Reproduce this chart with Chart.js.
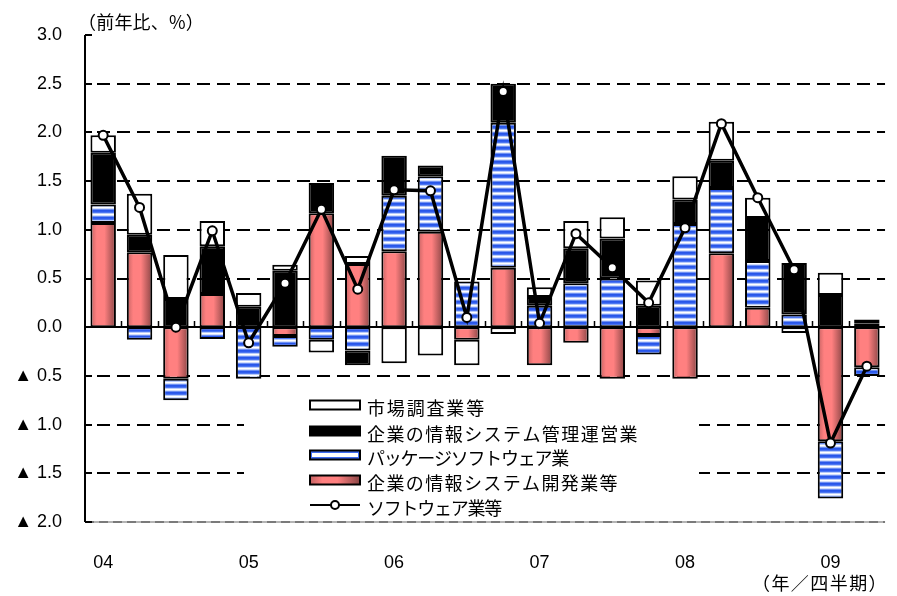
<!DOCTYPE html>
<html>
<head>
<meta charset="utf-8">
<script src="https://cdn.jsdelivr.net/npm/chart.js@4.4.1/dist/chart.umd.min.js"></script>
<style>
  html, body { margin: 0; padding: 0; background: #ffffff; }
  #wrap { width: 897px; height: 596px; }
</style>
</head>
<body>
<div id="wrap"><canvas id="c" width="897" height="596"></canvas></div>
<script>
// Quarters 2004 Q1 – 2009 Q2
const categories = [
  '04Q1','04Q2','04Q3','04Q4',
  '05Q1','05Q2','05Q3','05Q4',
  '06Q1','06Q2','06Q3','06Q4',
  '07Q1','07Q2','07Q3','07Q4',
  '08Q1','08Q2','08Q3','08Q4',
  '09Q1','09Q2'
];
const yearLabels = ['04', '05', '06', '07', '08', '09'];

// Contributions to year-on-year growth (percentage points)
const devSystems = [1.07, 0.77, -0.53, 0.34, 0, -0.09, 1.17, 0.65, 0.78, 0.98, -0.13, 0.61, -0.39, -0.16, -0.53, -0.08, -0.53, 0.76, 0.20, 0, -1.17, -0.41];
const packageSoftware = [0.19, -0.13, -0.22, -0.12, -0.53, -0.11, -0.13, -0.24, 0.57, 0.57, 0.47, 1.49, 0.22, 0.45, 0.50, -0.20, 1.06, 0.67, 0.48, 0.13, -0.59, -0.09];
const opsManagement = [0.53, 0.18, 0.29, 0.49, 0.21, 0.58, 0.31, -0.15, 0.41, 0.11, 0, 0.40, 0.09, 0.36, 0.41, 0.22, 0.25, 0.28, 0.44, 0.53, 0.33, 0.04];
const marketResearch = [0.18, 0.42, 0.45, 0.26, 0.14, 0.06, -0.13, 0.08, -0.37, -0.29, -0.26, -0.07, 0.10, 0.28, 0.22, 0.26, 0.24, 0.40, 0.21, -0.06, 0.23, 0.04];
// Software industry total (%)
const softwareTotal = [1.97, 1.23, 0.00, 0.99, -0.16, 0.45, 1.21, 0.39, 1.41, 1.40, 0.10, 2.42, 0.04, 0.96, 0.61, 0.25, 1.02, 2.09, 1.33, 0.59, -1.19, -0.40];

const seriesNames = [
  '市場調査業等',
  '企業の情報システム管理運営業',
  'パッケージソフトウェア業',
  '企業の情報システム開発業等',
  'ソフトウェア業等'
];

const CJK = '"Noto Sans CJK JP", "Noto Sans", sans-serif';
const LATIN = '"Liberation Sans", Arial, "DejaVu Sans", sans-serif';
const CAT_PCT = 0.7;

// Horizontal blue/white stripe fill
function makeStripePattern() {
  const c = document.createElement('canvas');
  c.width = 4; c.height = 7;
  const g = c.getContext('2d');
  const rows = ['#2856e8', '#2f5ced', '#4d77f1', '#b9cbfa', '#ffffff', '#d3defc', '#6d8ff3'];
  rows.forEach((col, i) => { g.fillStyle = col; g.fillRect(0, i, 4, 1); });
  return g.createPattern(c, 'repeat');
}
const stripe = makeStripePattern();

function redGradient(ctx2d, x0, x1) {
  const gr = ctx2d.createLinearGradient(x0, 0, x1, 0);
  gr.addColorStop(0, '#c46262');
  gr.addColorStop(0.25, '#ff8080');
  gr.addColorStop(0.55, '#ff8080');
  gr.addColorStop(1, '#8a4545');
  return gr;
}

function redFill(context) {
  const chart = context.chart;
  const xs = chart.scales.x;
  if (!chart.chartArea || !xs || context.dataIndex === undefined) return '#ff8080';
  const cx = xs.getPixelForValue(context.dataIndex);
  const hw = (xs.width / categories.length) * CAT_PCT / 2;
  return redGradient(chart.ctx, cx - hw, cx + hw);
}

const barCommon = {
  type: 'bar',
  borderColor: '#000000',
  borderWidth: 2,
  borderSkipped: false,
  categoryPercentage: CAT_PCT,
  barPercentage: 1.0,
  stack: 'parts',
  order: 1
};

function spacedText(ctx, text, x, y, width) {
  ctx.letterSpacing = '0px';
  const natural = ctx.measureText(text).width;
  const n = [...text].length;
  ctx.letterSpacing = ((width - natural) / n).toFixed(2) + 'px';
  ctx.fillText(text, x, y);
  ctx.letterSpacing = '0px';
}

// Gridlines, axes and tick marks
const framePlugin = {
  id: 'frame',
  beforeDatasetsDraw(chart) {
    const { ctx, chartArea: a, scales: { x, y } } = chart;
    ctx.save();
    ctx.lineWidth = 2;
    ctx.strokeStyle = '#000';
    ctx.setLineDash([13, 7]);
    [2.5, 2.0, 1.5, 1.0, 0.5, -0.5, -1.0, -1.5].forEach(v => {
      const py = Math.round(y.getPixelForValue(v));
      ctx.beginPath();
      ctx.moveTo(a.left + 12, py);
      ctx.lineTo(a.right, py);
      ctx.stroke();
    });
    // bottom line
    const pb = Math.round(y.getPixelForValue(-2.0));
    ctx.setLineDash([]);
    ctx.strokeStyle = '#b4b4b4';
    ctx.beginPath(); ctx.moveTo(a.left, pb); ctx.lineTo(a.right, pb); ctx.stroke();
    ctx.strokeStyle = '#7a7a7a';
    ctx.setLineDash([9, 5]);
    ctx.beginPath(); ctx.moveTo(a.left, pb); ctx.lineTo(a.right, pb); ctx.stroke();
    ctx.setLineDash([]);
    // zero line
    ctx.strokeStyle = '#000';
    const p0 = Math.round(y.getPixelForValue(0));
    ctx.beginPath(); ctx.moveTo(a.left, p0); ctx.lineTo(a.right, p0); ctx.stroke();
    // quarter boundary ticks on the zero line
    ctx.lineWidth = 1.5;
    for (let i = 1; i < categories.length; i++) {
      const px = Math.round((x.getPixelForValue(i - 1) + x.getPixelForValue(i)) / 2) + 0.5;
      ctx.beginPath(); ctx.moveTo(px, p0); ctx.lineTo(px, p0 - 6); ctx.stroke();
    }
    // value axis and its ticks
    ctx.lineWidth = 2;
    ctx.beginPath(); ctx.moveTo(a.left, a.top); ctx.lineTo(a.left, pb); ctx.stroke();
    for (let v = -2.0; v <= 3.0001; v += 0.5) {
      const py = Math.round(y.getPixelForValue(v));
      ctx.beginPath(); ctx.moveTo(a.left, py); ctx.lineTo(a.left + 7, py); ctx.stroke();
    }
    ctx.restore();
  },
  afterDraw(chart) {
    const { ctx } = chart;
    ctx.save();
    ctx.fillStyle = '#000';
    ctx.textBaseline = 'middle';
    ctx.font = '18px ' + CJK;
    ctx.textAlign = 'left';
    spacedText(ctx, '（前年比、%）', 78, 22, 126);
    spacedText(ctx, '（年／四半期）', 752, 583, 136);
    ctx.restore();
  }
};

// Legend panel inside the plot
const legendPlugin = {
  id: 'panelLegend',
  afterDraw(chart) {
    const { ctx } = chart;
    ctx.save();
    ctx.fillStyle = '#ffffff';
    ctx.fillRect(244, 386, 455, 128);
    const sx = 310, sw = 50, sh = 9;
    const rowsY = [405, 431, 455, 480, 505];
    const targetW = [119, 272, 201, 252, 134];
    // symbols
    ctx.lineWidth = 2;
    ctx.strokeStyle = '#000';
    ctx.fillStyle = '#fff';
    ctx.fillRect(sx, rowsY[0] - sh / 2, sw, sh);
    ctx.strokeRect(sx, rowsY[0] - sh / 2, sw, sh);
    ctx.fillStyle = '#000';
    ctx.fillRect(sx, rowsY[1] - sh / 2, sw, sh);
    ctx.strokeRect(sx, rowsY[1] - sh / 2, sw, sh);
    ctx.fillStyle = '#3f6cf0';
    ctx.fillRect(sx, rowsY[2] - sh / 2, sw, sh);
    ctx.fillStyle = '#ffffff';
    ctx.fillRect(sx + 2, rowsY[2] - 2, sw - 4, 4);
    ctx.strokeRect(sx, rowsY[2] - sh / 2, sw, sh);
    ctx.fillStyle = redGradient(ctx, sx, sx + sw);
    ctx.fillRect(sx, rowsY[3] - sh / 2, sw, sh);
    ctx.strokeRect(sx, rowsY[3] - sh / 2, sw, sh);
    ctx.beginPath(); ctx.moveTo(sx, rowsY[4]); ctx.lineTo(sx + sw, rowsY[4]); ctx.stroke();
    ctx.beginPath(); ctx.arc(sx + sw / 2, rowsY[4], 4, 0, Math.PI * 2);
    ctx.fillStyle = '#fff'; ctx.fill(); ctx.stroke();
    // labels
    ctx.fillStyle = '#000';
    ctx.font = '18px ' + CJK;
    ctx.textAlign = 'left';
    ctx.textBaseline = 'middle';
    seriesNames.forEach((name, i) => {
      spacedText(ctx, name, 367, rowsY[i] + 3, targetW[i]);
    });
    ctx.restore();
  }
};

new Chart(document.getElementById('c'), {
  data: {
    labels: categories,
    datasets: [
      Object.assign({}, barCommon, { label: seriesNames[3], data: devSystems, backgroundColor: redFill }),
      Object.assign({}, barCommon, { label: seriesNames[2], data: packageSoftware, backgroundColor: stripe }),
      Object.assign({}, barCommon, { label: seriesNames[1], data: opsManagement, backgroundColor: '#000000' }),
      Object.assign({}, barCommon, { label: seriesNames[0], data: marketResearch, backgroundColor: '#ffffff' }),
      {
        type: 'line',
        label: seriesNames[4],
        data: softwareTotal,
        stack: 'total',
        order: 0,
        borderColor: '#000000',
        borderWidth: 3.5,
        tension: 0,
        pointRadius: 4.5,
        pointBackgroundColor: '#ffffff',
        pointBorderColor: '#000000',
        pointBorderWidth: 2
      }
    ]
  },
  options: {
    responsive: false,
    animation: false,
    layout: { padding: { top: 35, right: 1, bottom: 0, left: 0 } },
    plugins: { legend: { display: false }, tooltip: { enabled: false } },
    scales: {
      x: {
        stacked: true,
        grid: { display: false, drawTicks: false },
        border: { display: false },
        afterFit: s => { s.height = 74; },
        ticks: {
          autoSkip: false,
          maxRotation: 0,
          padding: 30,
          color: '#000',
          font: { family: LATIN, size: 18 },
          callback: (v, i) => (i % 4 === 0 ? yearLabels[i / 4] : '')
        }
      },
      y: {
        stacked: true,
        min: -2.0,
        max: 3.0,
        grid: { display: false, drawTicks: false },
        border: { display: false },
        afterFit: s => { s.width = 85; },
        ticks: {
          stepSize: 0.5,
          padding: 23,
          color: '#000',
          font: { family: LATIN, size: 18 },
          callback: v => (v < 0 ? '▲ ' + Math.abs(v).toFixed(1) : Number(v).toFixed(1))
        }
      }
    }
  },
  plugins: [framePlugin, legendPlugin]
});
</script>
</body>
</html>
